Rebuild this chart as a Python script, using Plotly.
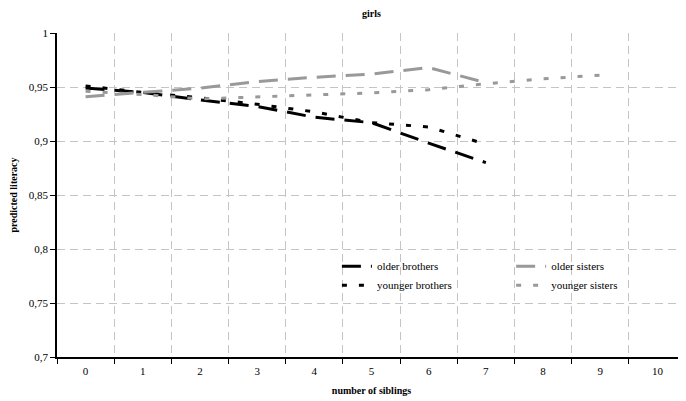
import plotly.graph_objects as go

categories = ["0", "1", "2", "3", "4", "5", "6", "7", "8", "9", "10"]
older_brothers = [0.949, 0.945, 0.938, 0.932, 0.922, 0.917, 0.898, 0.880]
younger_brothers = [0.951, 0.945, 0.940, 0.934, 0.927, 0.917, 0.913, 0.897]
older_sisters = [0.941, 0.945, 0.949, 0.955, 0.959, 0.962, 0.968, 0.954]
younger_sisters = [0.946, 0.943, 0.939, 0.941, 0.943, 0.9445, 0.9475, 0.953, 0.9575, 0.961]
y_tickvals = [0.7, 0.75, 0.8, 0.85, 0.9, 0.95, 1.0]
y_ticktext = ["0,7", "0,75", "0,8", "0,85", "0,9", "0,95", "1"]

FONT = "Liberation Serif, Times New Roman, DejaVu Serif, serif"
BLACK = "#000000"
GRAY = "#999999"
GRID = "#c4c4c4"

W, H = 678, 393

fig = go.Figure()
fig.add_trace(go.Scatter(x=categories[:len(older_brothers)], y=older_brothers, mode="lines",
                         name="older brothers", legend="legend",
                         line=dict(color=BLACK, width=3, dash="19px,10px")))
fig.add_trace(go.Scatter(x=categories[:len(younger_brothers)], y=younger_brothers, mode="lines",
                         name="younger brothers", legend="legend",
                         line=dict(color=BLACK, width=3, dash="5px,12px")))
fig.add_trace(go.Scatter(x=categories[:len(older_sisters)], y=older_sisters, mode="lines",
                         name="older sisters", legend="legend2",
                         line=dict(color=GRAY, width=3, dash="19px,10px")))
fig.add_trace(go.Scatter(x=categories[:len(younger_sisters)], y=younger_sisters, mode="lines",
                         name="younger sisters", legend="legend2",
                         line=dict(color=GRAY, width=3, dash="5px,12px")))

fig.update_layout(
    width=W, height=H,
    margin=dict(l=49, r=0, t=25, b=44),
    paper_bgcolor="white", plot_bgcolor="white",
    font=dict(family=FONT, size=11, color=BLACK),
    title=dict(text="<b>girls</b>", x=0.5, xref="paper", yref="container",
               y=1 - 5 / H, yanchor="middle",
               font=dict(family=FONT, size=10, color=BLACK)),
    legend=dict(x=0.445, y=0.325, xanchor="left", yanchor="top", bgcolor="rgba(0,0,0,0)",
                itemwidth=30, font=dict(family=FONT, size=11), tracegroupgap=0),
    legend2=dict(x=0.722, y=0.325, xanchor="left", yanchor="top", bgcolor="rgba(0,0,0,0)",
                 itemwidth=30, font=dict(family=FONT, size=11), tracegroupgap=0),
    showlegend=True,
)

fig.update_xaxes(
    type="category", categoryorder="array", categoryarray=categories,
    range=[-0.5, 10.5], tickson="boundaries", ticks="outside", ticklen=5,
    ticklabelstandoff=3,
    tickcolor=BLACK, showline=True, linecolor=BLACK, linewidth=1.5,
    showgrid=True, gridcolor=GRID, griddash="8px,5px", gridwidth=1,
    zeroline=False, fixedrange=True,
    title=dict(text="<b>number of siblings</b>", font=dict(family=FONT, size=10), standoff=11),
)
fig.update_yaxes(
    range=[0.7, 1.0], tickvals=y_tickvals, ticktext=y_ticktext,
    ticks="outside", ticklen=5, tickcolor=BLACK,
    showline=True, linecolor=BLACK, linewidth=1.5,
    showgrid=True, gridcolor=GRID, griddash="8px,5px", gridwidth=1,
    zeroline=False, fixedrange=True,
    title=dict(text="<b>predicted literacy</b>", font=dict(family=FONT, size=10), standoff=10),
)

fig.write_html("out.html")
